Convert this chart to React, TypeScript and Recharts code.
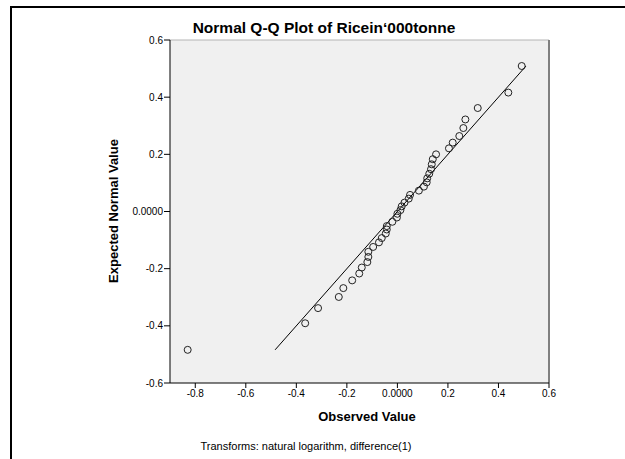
import React from 'react';
import {
  ScatterChart,
  Scatter,
  XAxis,
  YAxis,
  CartesianGrid,
  ReferenceLine,
} from 'recharts';

// Q-Q pairs: observed (log-differenced) values and their expected normal values
const observed = [
  -0.83, -0.365, -0.314, -0.232, -0.214, -0.179, -0.151, -0.141, -0.119, -0.115,
  -0.115, -0.096, -0.073, -0.062, -0.046, -0.042, -0.042, -0.02, -0.002, 0.0,
  0.012, 0.017, 0.028, 0.045, 0.05, 0.085, 0.105, 0.116, 0.118, 0.126,
  0.133, 0.136, 0.14, 0.153, 0.204, 0.219, 0.245, 0.261, 0.269, 0.318,
  0.439, 0.492,
];
const expected = [
  -0.484, -0.391, -0.338, -0.299, -0.268, -0.241, -0.217, -0.196, -0.177, -0.159,
  -0.141, -0.124, -0.108, -0.093, -0.077, -0.063, -0.051, -0.036, -0.021, -0.008,
  0.005, 0.018, 0.031, 0.045, 0.058, 0.073, 0.087, 0.102, 0.116, 0.132,
  0.148, 0.165, 0.183, 0.2, 0.221, 0.241, 0.264, 0.292, 0.322, 0.362,
  0.416, 0.509,
];
const xTicks = [-0.8, -0.6, -0.4, -0.2, 0, 0.2, 0.4, 0.6];
const yTicks = [-0.6, -0.4, -0.2, 0, 0.2, 0.4, 0.6];

const points = observed.map((x, i) => ({ x, y: expected[i] }));
const lineLo = Math.min(...expected);
const lineHi = Math.max(...expected);

const FONT = '"Liberation Sans", Arial, Helvetica, sans-serif';
const fmt = (v: number) => (v === 0 ? '0.0000' : v.toFixed(1));

const Ring = (p: any) => (
  <circle cx={p.cx} cy={p.cy} r={3.5} fill="none" stroke="#222" strokeWidth={1} />
);

export default function App() {
  return (
    <div style={{ position: 'absolute', left: 0, top: 0, width: 625, height: 459, background: '#fff' }}>
      <ScatterChart width={625} height={459} margin={{ top: 40, right: 76, bottom: 46, left: 110 }}>
        <CartesianGrid fill="#f0f0f0" stroke="none" />
        <XAxis
          type="number"
          dataKey="x"
          domain={[-0.9, 0.6]}
          ticks={xTicks}
          tickFormatter={fmt}
          allowDataOverflow
          height={30}
          stroke="#000"
          tickSize={5}
          tickMargin={2}
          tick={{ fill: '#000', fontSize: 10, fontFamily: FONT }}
        />
        <YAxis
          type="number"
          dataKey="y"
          domain={[-0.6, 0.6]}
          ticks={yTicks}
          tickFormatter={fmt}
          allowDataOverflow
          width={60}
          stroke="#000"
          tickSize={6}
          tickMargin={1}
          tick={{ fill: '#000', fontSize: 10, fontFamily: FONT }}
        />
        <ReferenceLine y={0.6} stroke="#b4b4b4" strokeWidth={1} />
        <ReferenceLine x={0.6} stroke="#808080" strokeWidth={2} />
        <ReferenceLine
          segment={[{ x: lineLo, y: lineLo }, { x: lineHi, y: lineHi }]}
          stroke="#000"
          strokeWidth={1}
        />
        <Scatter data={points} shape={Ring} isAnimationActive={false} />
      </ScatterChart>
      <svg
        width={625}
        height={459}
        style={{ position: 'absolute', left: 0, top: 0, pointerEvents: 'none' }}
      >
        <rect x={10} y={6} width={615} height={2} fill="#000" />
        <rect x={10} y={6} width={2} height={453} fill="#000" />
        <text x={324} y={33} textAnchor="middle" fontFamily={FONT} fontSize={15.5} fontWeight="bold" fill="#000">
          Normal Q-Q Plot of Ricein‘000tonne
        </text>
        <text
          x={118}
          y={211}
          transform="rotate(-90 118 211)"
          textAnchor="middle"
          fontFamily={FONT}
          fontSize={13}
          fontWeight="bold"
          fill="#000"
        >
          Expected Normal Value
        </text>
        <text x={367} y={421} textAnchor="middle" fontFamily={FONT} fontSize={13} fontWeight="bold" fill="#000">
          Observed Value
        </text>
        <text x={306} y={450} textAnchor="middle" fontFamily={FONT} fontSize={11} fill="#000">
          Transforms: natural logarithm, difference(1)
        </text>
      </svg>
    </div>
  );
}
